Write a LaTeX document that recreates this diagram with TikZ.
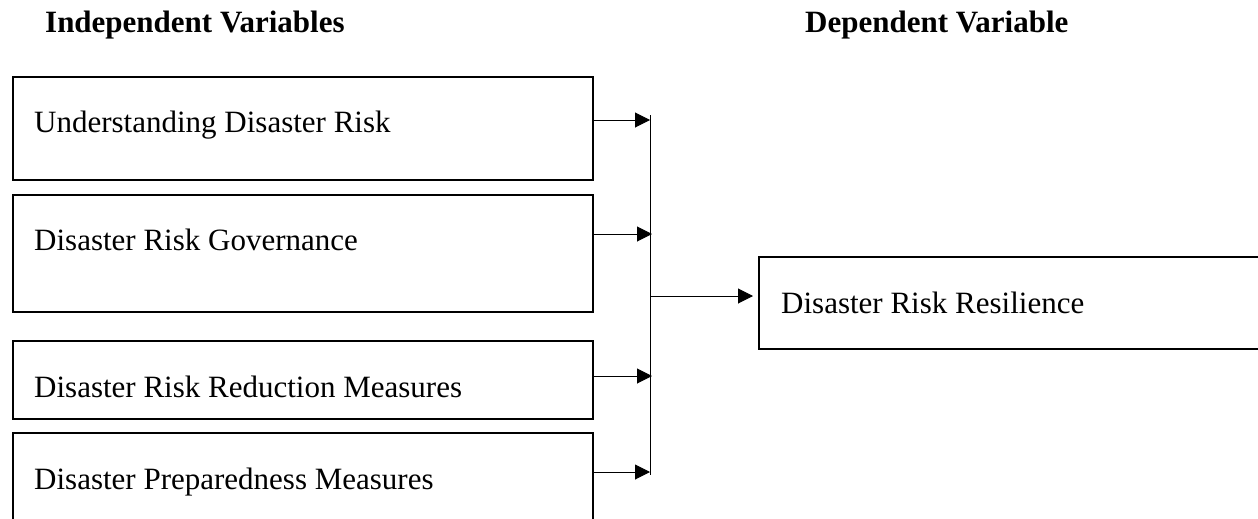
\documentclass[tikz,border=0pt]{standalone}
\usepackage{fontspec}
\setmainfont{Liberation Serif}
\usetikzlibrary{arrows.meta}
\begin{document}
\begin{tikzpicture}[x=1pt,y=-1pt,
  box/.style={draw, line width=1.6pt, rectangle, anchor=north west, inner sep=0pt},
  lbl/.style={anchor=base west, inner sep=0pt, font=\fontsize{31}{36}\selectfont},
  ttl/.style={anchor=base west, inner sep=0pt, font=\fontsize{31}{36}\selectfont\bfseries},
  conn/.style={line width=1pt, -{Triangle[length=15pt,width=15pt]}}]
\useasboundingbox (0,0) rectangle (1258,519);
\clip (0,0) rectangle (1258,519);
\node[ttl] (tin) at (45,33) {Independent Variables};
\node[ttl] (tdep) at (805,33) {Dependent Variable};
\node[box, minimum width=580pt, minimum height=103pt] (b1) at (12,76) {};
\node[box, minimum width=580pt, minimum height=117pt] (b2) at (12,194) {};
\node[box, minimum width=580pt, minimum height=78pt] (b3) at (12,340) {};
\node[box, minimum width=580pt, minimum height=110pt] (b4) at (12,432) {};
\node[box, minimum width=520pt, minimum height=92pt] (r) at (758,256) {};
\node[lbl] (l1) at (34,132) {Understanding Disaster Risk};
\node[lbl] (l2) at (34,250) {Disaster Risk Governance};
\node[lbl] (l3) at (34,397) {Disaster Risk Reduction Measures};
\node[lbl] (l4) at (34,489) {Disaster Preparedness Measures};
\node[lbl] (lr) at (781,313) {Disaster Risk Resilience};
\coordinate (vt) at (650,115);
\coordinate (vb) at (650,475);
\coordinate (vm) at (650,296);
\draw[line width=1pt] (vt) -- (vb);
\draw[conn] (b1.east |- 0,120) -- (vt |- 0,120);
\draw[conn] (b2.east |- 0,234) -- ([xshift=2pt]vt |- 0,234);
\draw[conn] (b3.east |- 0,376) -- ([xshift=2pt]vt |- 0,376);
\draw[conn] (b4.east |- 0,472) -- (vt |- 0,472);
\draw[conn] (vm) -- ([xshift=-5pt]r.west |- vm);
\end{tikzpicture}
\end{document}
